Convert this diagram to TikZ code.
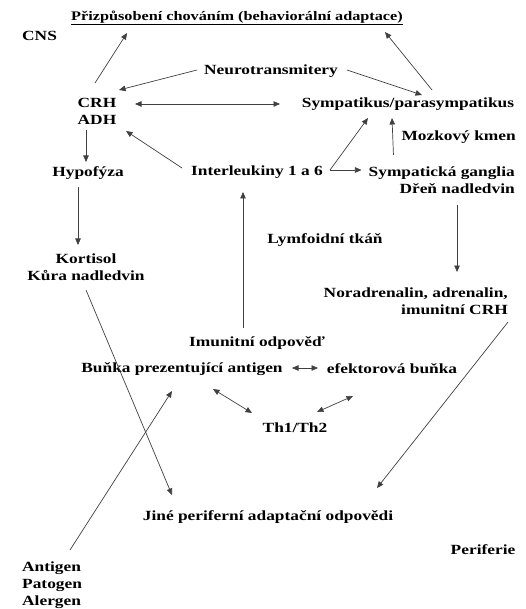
\documentclass[tikz,border=0pt]{standalone}
\usepackage{fontspec}
\setmainfont[FakeStretch=1.24]{Liberation Serif}
\usetikzlibrary{arrows.meta,calc}

\begin{document}
\begin{tikzpicture}[
  x=1pt, y=-1pt,
  every node/.style={font=\fontsize{14}{17}\selectfont\bfseries, inner sep=0pt},
  arr/.style={-{Triangle[length=6.5pt,width=5.5pt]}, line width=0.7pt, draw=black!75},
  darr/.style={{Triangle[length=6.5pt,width=5.5pt]}-{Triangle[length=6.5pt,width=5.5pt]}, line width=0.7pt, draw=black!75}
]
\useasboundingbox (0,0) rectangle (525,609);

% labels
\node[font=\fontsize{13.1}{16}\selectfont\bfseries] (title) at (237,18) {\underline{Přizpůsobení chováním (behaviorální adaptace)}};
\node[anchor=west] (cns) at (22,36) {CNS};
\node (neuro)   at (271,71)  {Neurotransmitery};
\node[align=center] (crh) at (97,111) {CRH\\ADH};
\node (symp)    at (408,104) {Sympatikus/parasympatikus};
\node[anchor=east] (kmen) at (516,137) {Mozkový kmen};
\node (hypo)    at (88,173)  {Hypofýza};
\node (inter)   at (257,172) {Interleukiny 1 a 6};
\node[anchor=east, align=right] (ganglia) at (515,180) {Sympatická ganglia\\Dřeň nadledvin};
\node (lymf)    at (325,240) {Lymfoidní tkáň};
\node[align=center] (kort) at (86,267) {Kortisol\\Kůra nadledvin};
\node[anchor=east, align=right] (nora) at (508,301) {Noradrenalin, adrenalin,\\imunitní CRH};
\node (imun)    at (257,343) {Imunitní odpověď};
\node (bunka)   at (182,369) {Buňka prezentující antigen};
\node (efekt)   at (392,369) {efektorová buňka};
\node (th)      at (295,428) {Th1/Th2};
\node (jine)    at (268,517) {Jiné periferní adaptační odpovědi};
\node (peri)    at (483,550) {Periferie};
\node[anchor=west, align=left] (antigen) at (22,585) {Antigen\\Patogen\\Alergen};

% central nervous system
\draw[arr] ($(crh)+(-2,-28)$) -- ($(title)+(-110,15)$);
\draw[arr] ($(symp)+(24,-14)$) -- ($(title)+(148,14)$);
\draw[arr] ($(neuro)+(-74,-1)$) -- ($(crh)+(22,-21)$);
\draw[arr] ($(neuro)+(76,-1)$) -- ($(symp)+(14,-9)$);
\draw[darr] ($(crh)+(38,-7)$) -- ($(symp)+(-128,0)$);

% interleukin branch
\coordinate (ilfork) at ($(inter)+(73,-2)$);
\draw[arr] (ilfork) -- ($(symp)+(-40,14)$);
\draw[arr] (ilfork) -- ($(ganglia.west)+(-7,-10)$);
\draw[arr] ($(ganglia.west)+(25,-25)$) -- ($(symp)+(-16,14)$);
\draw[arr] ($(inter)+(-75,-4)$) -- ($(crh)+(29,20)$);

% hormonal axis
\draw[arr] ($(crh)+(-11,19)$) -- ($(hypo)+(-2,-11)$);
\draw[arr] ($(hypo)+(-10,14)$) -- ($(kort)+(-8,-22)$);
\draw[arr] ($(imun)+(-14,-15)$) -- ($(inter)+(-14,20)$);
\draw[arr] ($(ganglia.east)+(-58,25)$) -- ($(nora.east)+(-51,-29)$);

% periphery
\draw[arr] ($(kort)+(0,23)$) -- ($(jine)+(-96,-22)$);
\draw[arr] ($(nora.east)+(0,21)$) -- ($(jine)+(109,-29)$);
\draw[arr] ($(antigen.west)+(48,-35)$) -- ($(bunka)+(-10,22)$);

% immune cells
\draw[darr] ($(bunka)+(110,-1)$) -- ($(efekt)+(-74,-1)$);
\draw[darr] ($(bunka)+(31,20)$) -- ($(th)+(-43,-15)$);
\draw[darr] ($(efekt)+(-39,27)$) -- ($(th)+(22,-16)$);
\end{tikzpicture}
\end{document}
